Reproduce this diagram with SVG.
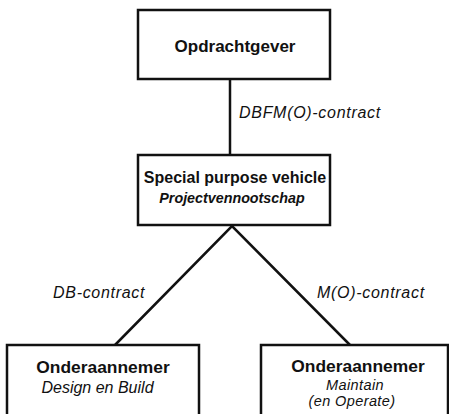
<svg xmlns="http://www.w3.org/2000/svg" width="449" height="414" viewBox="0 0 449 414">
  <style>
    .box { fill: #ffffff; stroke: #111111; stroke-width: 2.5; }
    .link { stroke: #111111; stroke-width: 2.5; fill: none; }
    .title { font-family: "Liberation Sans", Arial, sans-serif; font-weight: bold; fill: #111111; text-anchor: middle; }
    .sub { font-family: "Liberation Sans", Arial, sans-serif; font-style: italic; fill: #111111; text-anchor: middle; }
    .label { font-family: "Liberation Sans", Arial, sans-serif; font-style: italic; font-size: 16px; letter-spacing: 0.7px; fill: #111111; }
  </style>
  <rect width="449" height="414" fill="#ffffff"/>

  <!-- connectors -->
  <g id="connectors">
    <line class="link" x1="230" y1="79" x2="230" y2="155"/>
    <polyline class="link" points="115,345 232,226 350,345"/>
    <text class="label" x="239" y="118">DBFM(O)-contract</text>
    <text class="label" x="53" y="298">DB-contract</text>
    <text class="label" x="317" y="298">M(O)-contract</text>
  </g>

  <g id="opdrachtgever">
    <rect class="box" x="138" y="10" width="192" height="69"/>
    <text class="title" x="235" y="52" font-size="17">Opdrachtgever</text>
  </g>

  <g id="spv">
    <rect class="box" x="138" y="155" width="192" height="70"/>
    <text class="title" x="235" y="183" font-size="16">Special purpose vehicle</text>
    <text class="title" x="232" y="203" font-size="14.3" font-style="italic">Projectvennootschap</text>
  </g>

  <g id="onderaannemer-db">
    <rect class="box" x="7" y="345" width="192" height="80"/>
    <text class="title" x="103" y="373" font-size="17.4">Onderaannemer</text>
    <text class="sub" x="97.5" y="393" font-size="16">Design en Build</text>
  </g>

  <g id="onderaannemer-mo">
    <rect class="box" x="261" y="345" width="187" height="80"/>
    <text class="title" x="358" y="372" font-size="17.4">Onderaannemer</text>
    <text class="sub" x="355" y="390" font-size="14.5" letter-spacing="0.4">Maintain</text>
    <text class="sub" x="352" y="406" font-size="14.5" letter-spacing="0.4">(en Operate)</text>
  </g>
</svg>
